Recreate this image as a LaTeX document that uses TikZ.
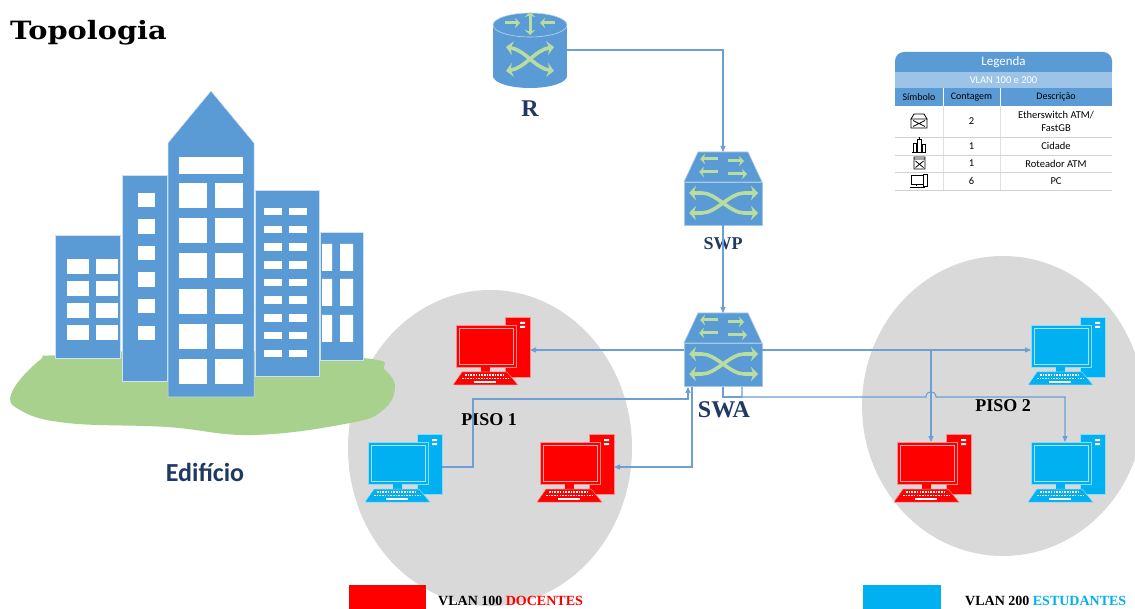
\documentclass[tikz,border=0pt]{standalone}
\usepackage{fontspec}
\usepackage{graphicx}
\setmainfont{Liberation Serif}
\newfontfamily\calibri{Carlito}
\newfontfamily\titulo{DejaVu Serif}
\usetikzlibrary{arrows.meta,positioning}

\definecolor{azul}{HTML}{5B9BD5}
\definecolor{azulclaro}{HTML}{9DC3E6}
\definecolor{grama}{HTML}{A9D18E}
\definecolor{verdeseta}{HTML}{B9DCA0}
\definecolor{ciano}{HTML}{00B0F0}
\definecolor{vermelho}{HTML}{FF0000}
\definecolor{cinza}{HTML}{D9D9D9}
\definecolor{marinho}{HTML}{203864}
\definecolor{cabo}{HTML}{6E9FD4}

\tikzset{
  cabo/.style={draw=cabo,line width=1.1pt,-{Triangle[length=6pt,width=5pt]}},
  rotulo/.style={font=\bfseries\fontsize{#1}{#1}\selectfont,text=marinho,inner sep=0pt},
  piso/.style={font=\bfseries\fontsize{18}{18}\selectfont,inner sep=0pt},
  setinha/.style={draw=verdeseta,line width=3pt,-{Stealth[length=5pt,width=10pt]}},
  setona/.style={draw=verdeseta,line width=3.6pt,{Stealth[length=7pt,width=14pt]}-{Stealth[length=7pt,width=14pt]}},
  predio/.style={fill=azul,draw=white!70!azul,line width=.5pt},
  leg/.style={font=\calibri\fontsize{10.5}{12}\selectfont,inner sep=0pt,align=center},
  icone/.style={draw=black,line width=.8pt},
  pics/pc/.style={code={
    % torre
    \filldraw[fill=#1,draw=white!55!#1,line width=.6pt] (51,0) rectangle (76,60);
    \fill[white] (66,5) rectangle (71,7) (66,9) rectangle (71,11);
    % monitor
    \filldraw[fill=#1,draw=white!55!#1,line width=.6pt] (2,8) rectangle (62,50);
    \draw[white!65!#1,line width=.6pt] (5,11) rectangle (59,47);
    \fill[#1] (27,50) rectangle (36,55.5);
    % teclado
    \filldraw[fill=#1,draw=white!55!#1,line width=.5pt] (8,55) -- (53,55) -- (64,68) -- (-1,68) -- cycle;
    \foreach \y/\a/\b in {58/11/51, 61.5/8/55}
      \draw[white,line width=1.3pt,dash pattern=on 1.6pt off 1.1pt] (\a,\y) -- (\b,\y);
    \draw[white,line width=1.3pt] (20,65) -- (42,65);
    \coordinate (-e) at (76,33);
    \coordinate (-w) at (2,33);
    \coordinate (-n) at (36,8);
  }},
  pics/switch/.style={code={
    \filldraw[fill=azul,draw=white!45!azul,line width=.6pt] (14,0) -- (64,0) -- (78,30) -- (0,30) -- cycle;
    \filldraw[fill=azul,draw=white!45!azul,line width=.6pt] (0,30) rectangle (78,73);
    \foreach \a/\b/\y in {34/16/7, 44/60/9, 34/15/20, 44/63/22}
      \draw[setinha] (\a,\y) -- (\b,\y);
    \draw[setona] (5,41) -- (18,41) .. controls (32,41) and (46,61) .. (60,61) -- (74,61);
    \draw[setona] (5,61) -- (18,61) .. controls (32,61) and (46,41) .. (60,41) -- (74,41);
    \coordinate (-n) at (39,0);
    \coordinate (-s) at (39,73);
    \coordinate (-w) at (0,37);
    \coordinate (-e) at (78,37);
    \coordinate (-s0) at (4,74);
    \coordinate (-b0) at (4,86);
    \coordinate (-s8) at (8,74);
    \coordinate (-s1) at (39,74);
    \coordinate (-s2) at (58,74);
    \coordinate (-b2) at (58,84);
  }}
}

\begin{document}
\begin{tikzpicture}[x=1pt,y=-1pt]
\useasboundingbox (0,0) rectangle (1135,609);
\clip (0,0) rectangle (1135,609);
\fill[white] (0,0) rectangle (1135,609);

% pisos
\fill[cinza] (490,448) ellipse [x radius=142,y radius=158];
\fill[cinza] (1003,406) ellipse [x radius=141,y radius=150];

\node[anchor=base west,inner sep=0pt,font=\titulo\bfseries\fontsize{24}{24}\selectfont] (titulo) at (10,40) {\scalebox{1.2}[1.05]{Topologia}};

% edificio
\fill[grama] plot[smooth cycle,tension=.7] coordinates {(12,392) (40,360) (60,355) (200,350) (363,358) (385,370) (395,388) (383,410) (350,423) (253,435) (167,427) (67,423) (20,410)};
\filldraw[predio] (55,235) rectangle (120,358);
\foreach \x in {67,96} \foreach \y in {259,281,303,325}
  \fill[white] (\x,\y) rectangle ++(22,15);
\filldraw[predio] (122,175) rectangle (167,381);
\foreach \y in {193,219.5,246,272.5,299,326}
  \fill[white] (138,\y) rectangle ++(17,14.5);
\filldraw[predio] (168,397) -- (168,143) -- (211,91) -- (254,143) -- (254,397) -- cycle;
\fill[white] (179,157) rectangle (243,174);
\foreach \x in {179,215} \foreach \y in {183,218,253,289,324,359}
  \fill[white] (\x,\y) rectangle ++(28,25);
\filldraw[predio] (255,190) rectangle (319,376);
\foreach \x in {264,289} \foreach \i in {0,...,8}
  \fill[white] (\x,208+17.7*\i) rectangle ++(18,7.5);
\filldraw[predio] (320,232) rectangle (363,360);
\foreach \y in {244,279,315}
  \fill[white] (322,\y) rectangle ++(10,27) (340,\y) rectangle ++(13,27);
\node[font=\calibri\bfseries\fontsize{26}{26}\selectfont,text=marinho] (edificio) at (205,472) {Edifício};

% roteador
\fill[azul] (493,25) rectangle (567,76);
\fill[azul] (530,76) ellipse [x radius=37,y radius=12];
\filldraw[fill=azul,draw=white!60!azul,line width=.6pt] (530,25) ellipse [x radius=37,y radius=12];
\draw[setinha] (505,23) -- (520,23);
\draw[setinha] (555,23) -- (540,23);
\draw[setinha,{Stealth[length=5pt,width=10pt]}-{Stealth[length=5pt,width=10pt]}] (530,12) -- (530,35);
\draw[setona] (506,47) .. controls (525,50) and (535,68) .. (554,71);
\draw[setona] (506,71) .. controls (525,68) and (535,50) .. (554,47);
\node[minimum width=74pt,minimum height=76pt,inner sep=0pt] (rt) at (530,50) {};
\node[rotulo=24] (rotR) at (530,109) {R};

% switches
\pic (swp) at (684,152) {switch};
\node[rotulo=18] (rotSWP) at (723,244) {SWP};
\pic (swa) at (684,313) {switch};
\node[rotulo=24] (rotSWA) at (724,410) {SWA};

% computadores
\pic (pa) at (454,317) {pc=vermelho};
\pic (pb) at (366,434) {pc=ciano};
\pic (pc) at (538,434) {pc=vermelho};
\pic (pd) at (1029,317) {pc=ciano};
\pic (pe) at (895,434) {pc=vermelho};
\pic (pf) at (1029,434) {pc=ciano};

\node[piso] (piso1) at (489,420) {PISO 1};
\node[piso] (piso2) at (1003,406) {PISO 2};

% ligacoes
\draw[cabo] (rt.east) -| (swp-n);
\draw[cabo] (swp-s) -- (swa-n);
\draw[cabo] (swa-w) -- (pa-e);
\draw[cabo] (pb-e) -- ++(31,0) |- (swa-b0) -- (swa-s0);
\draw[cabo] (swa-s8) |- (pc-e);
\draw[cabo] (swa-e) -- (pd-w);
\draw[cabo] (pe-n |- swa-e) -- (pe-n);
\coordinate (salto) at (pe-n |- swa-b2);
\draw[cabo,-] (swa-s1) |- (swa-b2);
\draw[cabo] (swa-s2) -- (swa-b2) -- ([xshift=-5pt]salto) .. controls +(0,-7) and +(0,-7) .. ([xshift=5pt]salto) -| (pf-n);

% legenda
\fill[azul,rounded corners=9pt] (895,80) rectangle (1112,52);
\fill[azulclaro] (895,72) rectangle (1112,88);
\fill[azul] (895,88) rectangle (1112,106);
\draw[white,line width=.8pt] (943,88) -- (943,106) (1000,88) -- (1000,106);
\draw[black!12] (943,106) -- (943,190) (1000,106) -- (1000,190);
\foreach \y in {137,155,172,190}
  \draw[black!18] (895,\y) -- (1112,\y);
\node[leg,text=white,font=\calibri\fontsize{13}{13}\selectfont] (legenda) at (1003.5,62) {Legenda};
\node[leg,text=white] (vlans) at (1003.5,80) {VLAN 100 e 200};
\node[leg,font=\calibri\fontsize{10}{10}\selectfont] (hsim) at (919,97) {Símbolo};
\node[leg,font=\calibri\fontsize{10}{10}\selectfont] (hcont) at (971.5,97) {Contagem};
\node[leg,font=\calibri\fontsize{10}{10}\selectfont] (hdesc) at (1056,97) {Descrição};
\node[leg] (c1) at (971.5,121.5) {2};
\node[leg] (d1) at (1056,121.5) {Etherswitch ATM/\\[1pt]FastGB};
\node[leg] (c2) at (971.5,146) {1};
\node[leg] (d2) at (1056,146) {Cidade};
\node[leg] (c3) at (971.5,163.5) {1};
\node[leg] (d3) at (1056,163.5) {Roteador ATM};
\node[leg] (c4) at (971.5,181) {6};
\node[leg] (d4) at (1056,181) {PC};
% icones da legenda
\draw[icone] (914,114) -- (924,114) -- (927,119) -- (911,119) -- cycle (911,119) rectangle (927,128)
  (913,120.5) -- (925,126.5) (913,126.5) -- (925,120.5);
\draw[icone] (912,152) -- (926,152) (913,152) rectangle (916,143) (917,152) rectangle (921,139)
  (922,152) rectangle (925,144) (919,139) -- (919,137);
\draw[icone] (914,157) rectangle (925,169) (914,159) -- (925,159) (915.5,161) -- (923.5,167.5) (915.5,167.5) -- (923.5,161);
\draw[icone] (911,175) rectangle (923,184) (923,174) rectangle (927,186) (910,187) -- (925,187) (916,184) -- (916,186);

% vlans
\fill[vermelho] (349,585) rectangle (426,612);
\node[anchor=base west,inner sep=0pt,font=\bfseries\fontsize{14}{14}\selectfont] (vlan100) at (438,605.5) {VLAN 100 \textcolor{vermelho}{DOCENTES}};
\fill[ciano] (863,585) rectangle (941,612);
\node[anchor=base west,inner sep=0pt,font=\bfseries\fontsize{14}{14}\selectfont] (vlan200) at (965,605.5) {VLAN 200 \textcolor{ciano}{ESTUDANTES}};
\end{tikzpicture}
\end{document}
